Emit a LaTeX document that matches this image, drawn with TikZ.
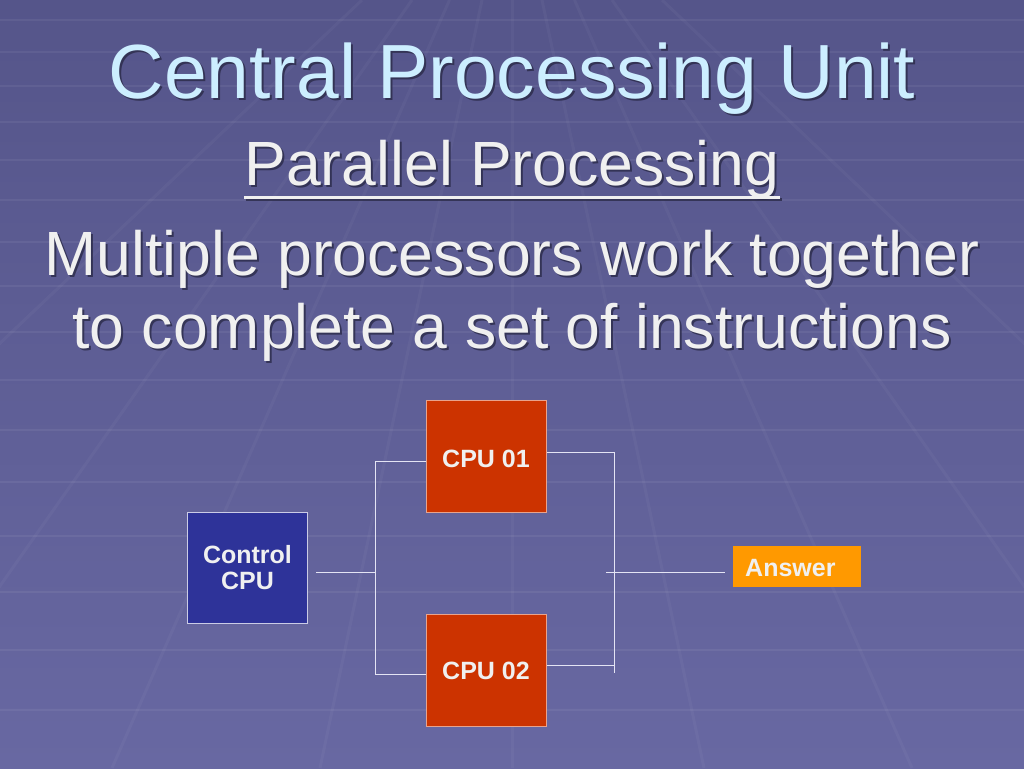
\documentclass[tikz,border=0pt]{standalone}
\usepackage{fontspec}
\setmainfont{Liberation Sans}
\definecolor{bgtop}{HTML}{55558A}
\definecolor{bgbot}{HTML}{6868A2}
\definecolor{titlec}{HTML}{CCEEFF}
\definecolor{bodyc}{HTML}{F0F0F0}
\definecolor{shadowc}{HTML}{2A2A48}
\definecolor{ctrlc}{HTML}{2E3399}
\definecolor{cpuc}{HTML}{CC3300}
\definecolor{ansc}{HTML}{FF9900}
\definecolor{wirec}{HTML}{E4E4F4}
\tikzset{
  ttl/.style={font=\fontsize{76.8}{80}\selectfont, text=titlec, inner sep=0pt, anchor=base},
  bod/.style={font=\fontsize{62.5}{66}\selectfont, text=bodyc, inner sep=0pt, anchor=base},
  shd/.style={text=shadowc, text opacity=0.8},
  boxbase/.style={draw, line width=1pt, inner sep=0pt, minimum width=120pt, anchor=north west},
  ctrlbox/.style={boxbase, fill=ctrlc, draw=white!75!ctrlc, minimum height=111pt},
  cpubox/.style={boxbase, fill=cpuc, draw=white!55!cpuc, minimum height=112pt},
  ansbox/.style={fill=ansc, inner sep=0pt, minimum width=128pt, minimum height=41pt, anchor=north west},
  lbl/.style={font=\bfseries\fontsize{25}{29}\selectfont, text=bodyc, inner sep=0pt, align=center},
  wire/.style={draw=wirec, line width=1pt},
  grid/.style={draw=white, opacity=0.06, line width=2pt},
  vgrid/.style={draw=white, opacity=0.035, line width=3pt}
}
\begin{document}
\begin{tikzpicture}[x=1pt,y=-1pt]
\useasboundingbox (0,0) rectangle (1024,768);
\shade[top color=bgtop, bottom color=bgbot] (0,0) rectangle (1024,768);
% faint perspective grid
\foreach \yy in {20,52,86,122,160,200,242,286,332,380,430,482,536,592,650,710} {
  \draw[grid] (0,\yy) -- (1024,\yy);
}
\foreach \xx in {-600,-400,-250,-120,0,120,250,400,600} {
  \draw[vgrid] (512+\xx*0.25,0) -- (512+\xx*1.6,768);
}
% titles with shadows
\node[ttl, shd] (t1s) at (514,100) {Central Processing Unit};
\node[ttl] (t1) at (512,98) {Central Processing Unit};
\node[bod, shd] (t2s) at (514,187) {Parallel Processing};
\node[bod] (t2) at (512,185) {Parallel Processing};
\draw[draw=shadowc, opacity=0.8, line width=3pt] (246,199) -- (782,199);
\draw[draw=bodyc, line width=3pt] (244,197) -- (780,197);
\node[bod, shd] (t3s) at (514,277) {Multiple processors work together};
\node[bod] (t3) at (512,275) {Multiple processors work together};
\node[bod, shd] (t4s) at (514,350) {to complete a set of instructions};
\node[bod] (t4) at (512,348) {to complete a set of instructions};
% boxes
\node[ctrlbox] (ctrl) at (187,512) {};
\node[lbl] (ctrlt) at (ctrl.center) {Control\\[-3pt]CPU};
\node[cpubox] (cpu1) at (426,400) {};
\node[lbl] (cpu1t) at (486,459) {CPU 01};
\node[cpubox] (cpu2) at (426,614) {};
\node[lbl] (cpu2t) at (486,671) {CPU 02};
\node[ansbox] (ans) at (733,546) {};
\node[lbl, anchor=west] (anst) at (745,568) {Answer};
% junction coordinates
\coordinate (cs) at (316,572);
\coordinate (jl) at (375,572);
\coordinate (jl1) at (375,461);
\coordinate (jl2) at (375,674);
\coordinate (jr1) at (614,452);
\coordinate (jr2) at (614,665);
\coordinate (jrb) at (614,673);
\coordinate (js) at (606,572);
\coordinate (ae) at (725,572);
% connectors
\draw[wire] (cs) -- (jl);
\draw[wire] (jl1) -- (jl2);
\draw[wire] (jl1) -- (jl1 -| cpu1.west);
\draw[wire] (jl2) -- (jl2 -| cpu2.west);
\draw[wire] (jr1 -| cpu1.east) -- (jr1) -- (jrb);
\draw[wire] (jr2 -| cpu2.east) -- (jr2);
\draw[wire] (js) -- (ae);
\end{tikzpicture}
\end{document}
